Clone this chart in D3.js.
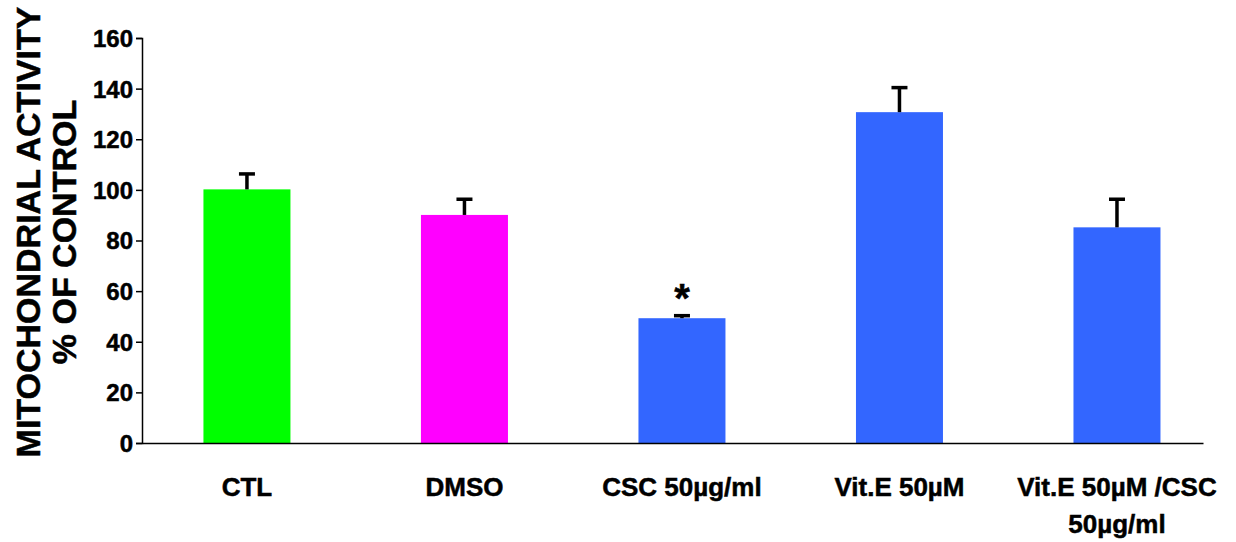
<!DOCTYPE html>
<html>
<head>
<meta charset="utf-8">
<script src="https://cdn.jsdelivr.net/npm/d3@7"></script>
<style>
  body { margin: 0; background: #fff; }
  text { font-family: "Liberation Sans", Arial, sans-serif; font-weight: bold; fill: #000; stroke: #000; stroke-width: 0.5px; }
</style>
</head>
<body>
<svg width="1236" height="542"></svg>
<script>
// data
const groups = ['CTL', 'DMSO', 'CSC', 'VitE', 'VitE_CSC']
const groupLabels = [['CTL'], ['DMSO'], ['CSC 50\u00b5g/ml'], ['Vit.E 50\u00b5M'], ['Vit.E 50\u00b5M /CSC', '50\u00b5g/ml']]
const means = [100.2, 90.1, 49.3, 130.7, 85.2]
const errors = [6.1, 6.2, 1.0, 9.7, 11.1]
const colors = ['#00ff00', '#ff00ff', '#3366ff', '#3366ff', '#3366ff']
const significant = [false, false, true, false, false]
const yTicks = [0, 20, 40, 60, 80, 100, 120, 140, 160]

var svg = d3.select("svg")

var x = d3.scaleBand()
    .domain(groups)
    .range([142, 1203])
    .paddingInner(0.6)
    .paddingOuter(0.239)
    .align(0.591)

var y = d3.scaleLinear()
    .domain([0, 160])
    .range([443, 38])

// y axis
var yAxis = svg.append("g")
    .attr("transform", "translate(142,0)")
    .call(d3.axisLeft(y).tickValues(yTicks).tickSize(6).tickPadding(3))
yAxis.selectAll("text").style("font-size", "24px").attr("dy", "0.35em")
yAxis.selectAll("line").attr("stroke", "#000").attr("stroke-width", 1.5)
yAxis.select(".domain").attr("stroke", "#000").attr("stroke-width", 1.5)

// bars
var bars = svg.append("g")
bars.selectAll("rect")
    .data(groups)
    .enter().append("rect")
    .attr("x", d => x(d))
    .attr("width", x.bandwidth())
    .attr("y", (d, i) => y(means[i]))
    .attr("height", (d, i) => y(0) - y(means[i]))
    .attr("fill", (d, i) => colors[i])

// error bars (upper only)
var err = svg.append("g").attr("stroke", "#000").attr("stroke-width", 3.5)
groups.forEach(function(d, i) {
    var cx = x(d) + x.bandwidth() / 2
    err.append("line")
        .attr("x1", cx).attr("x2", cx)
        .attr("y1", y(means[i])).attr("y2", y(means[i] + errors[i]))
    err.append("line")
        .attr("x1", cx - 8).attr("x2", cx + 8)
        .attr("y1", y(means[i] + errors[i])).attr("y2", y(means[i] + errors[i]))
    if (significant[i]) {
        svg.append("text")
            .attr("x", cx)
            .attr("y", y(means[i] + errors[i]) - 4)
            .attr("text-anchor", "middle")
            .style("font-size", "40px")
            .text("*")
    }
})

// x axis
var xAxis = svg.append("g")
    .attr("transform", "translate(0,443)")
    .call(d3.axisBottom(x).tickSize(0).tickFormat(""))
xAxis.select(".domain").attr("stroke", "#000").attr("stroke-width", 1.5)

var lab = svg.append("g")
groups.forEach(function(d, i) {
    var t = lab.append("text")
        .attr("text-anchor", "middle")
        .attr("y", 496)
        .style("font-size", "26px")
    groupLabels[i].forEach(function(s, j) {
        t.append("tspan")
            .attr("x", x(d) + x.bandwidth() / 2)
            .attr("dy", j == 0 ? 0 : 37)
            .text(s)
    })
})

// y title
var title = svg.append("text")
    .attr("transform", "translate(0,232) rotate(-90)")
    .attr("text-anchor", "middle")
    .style("font-size", "34px")
title.append("tspan").attr("x", 0).attr("y", 40).text("MITOCHONDRIAL ACTIVITY")
title.append("tspan").attr("x", 0).attr("y", 76).text("% OF CONTROL")
</script>
</body>
</html>
